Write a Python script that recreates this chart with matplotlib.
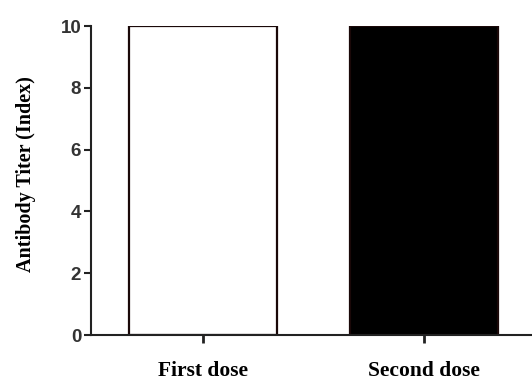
import matplotlib
matplotlib.use("Agg")
import matplotlib.pyplot as plt

# data
groups = ["First dose", "Second dose"]
titers = [10, 10]
bar_colors = ["white", "black"]
yticks = [0, 2, 4, 6, 8, 10]

fig = plt.figure(figsize=(5.32, 3.81), dpi=100)
ax = fig.add_axes([0.171, 0.1207, 0.829, 0.811])

x = range(len(groups))
ax.bar(x, titers, width=0.67, color=bar_colors, edgecolor="#1a0808", linewidth=1.6)

ax.set_xlim(-0.507, 1.49)
ax.set_ylim(0, 10)
ax.set_xticks(list(x))
ax.set_xticklabels(groups, fontfamily="Liberation Serif", fontweight="bold", fontsize=15.5)
ax.set_yticks(yticks)
ax.set_yticklabels([str(v) for v in yticks], fontfamily="Liberation Sans", fontweight="bold", fontsize=13.5)

ax.spines["top"].set_visible(False)
ax.spines["right"].set_visible(False)
ax.spines["left"].set_linewidth(1.5)
ax.spines["bottom"].set_linewidth(1.5)
ax.spines["left"].set_color("#222222")
ax.spines["bottom"].set_color("#222222")
ax.tick_params(axis="y", direction="out", length=5, width=1.5, pad=2, colors="#222222")
ax.tick_params(axis="x", direction="out", length=6, width=2, pad=13, colors="#222222")
for lab in ax.get_yticklabels():
    lab.set_color("#333333")
for lab in ax.get_xticklabels():
    lab.set_color("black")

ax.set_ylabel("Antibody Titer (Index)", fontfamily="Liberation Serif", fontweight="bold", fontsize=14.5)
ax.yaxis.set_label_coords(-0.124, 0.52)

fig.savefig("out.png", dpi=100)
